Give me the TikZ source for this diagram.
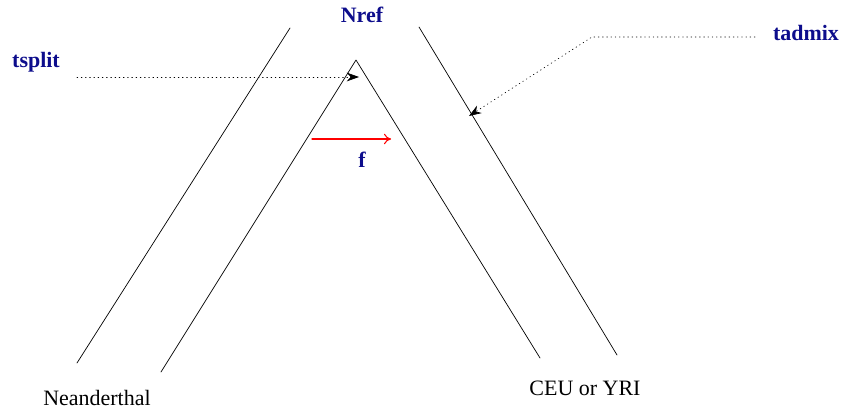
\documentclass[tikz,border=0pt]{standalone}
\usepackage{fontspec}
\setmainfont{Liberation Serif}
\usetikzlibrary{arrows.meta}

\definecolor{labelblue}{rgb}{0.05,0.05,0.55}

\tikzset{
  lbl/.style={font=\fontsize{12.5}{15}\selectfont\bfseries,text=labelblue,inner sep=0pt},
  pop/.style={font=\fontsize{12.5}{15}\selectfont,inner sep=0pt},
  pointer/.style={dotted,-{Stealth[length=7pt,width=5pt]}}
}

\begin{document}
\begin{tikzpicture}[x=0.02cm,y=-0.02cm,line cap=round,line join=round]

  \useasboundingbox (0,0) rectangle (841,409);

  %-------------------------
  % Ramas del arbol
  %-------------------------
  \coordinate (apex) at (356,60);
  \draw (290,28) -- (77,363);        % borde exterior izquierdo
  \draw (161,372) -- (apex) -- (540,358); % borde interior
  \draw (419,27) -- (617,355);       % borde exterior derecho

  %-------------------------
  % Etiquetas
  %-------------------------
  \node[lbl] (nref) at (362,15) {Nref};
  \node[lbl] (tsplit) at (36,62) {tsplit};
  \node[lbl] (tadmix) at (806,33) {tadmix};
  \node[lbl] (f) at (362,160) {f};

  \node[pop] (nean) at (97,398) {Neanderthal};
  \node[pop] (ceu) at (585,388) {CEU or YRI};

  %-------------------------
  % Flechas punteadas
  %-------------------------
  \coordinate (tsplitfrom) at (77,77);
  \coordinate (tsplitto) at (359,77);
  \draw[pointer] (tsplitfrom) -- (tsplitto);

  \coordinate (tadmixfrom) at (755,37);
  \coordinate (tadmixbend) at (592,37);
  \coordinate (tadmixto) at (469,116);
  \draw[pointer] (tadmixfrom) -- (tadmixbend) -- (tadmixto);

  %-------------------------
  % Flujo de genes
  %-------------------------
  \coordinate (flowfrom) at (312,139);
  \coordinate (flowto) at (391,139);
  \draw[red,line width=0.6pt,-{To[length=4pt,width=6pt]}] (flowfrom) -- (flowto);

\end{tikzpicture}
\end{document}
